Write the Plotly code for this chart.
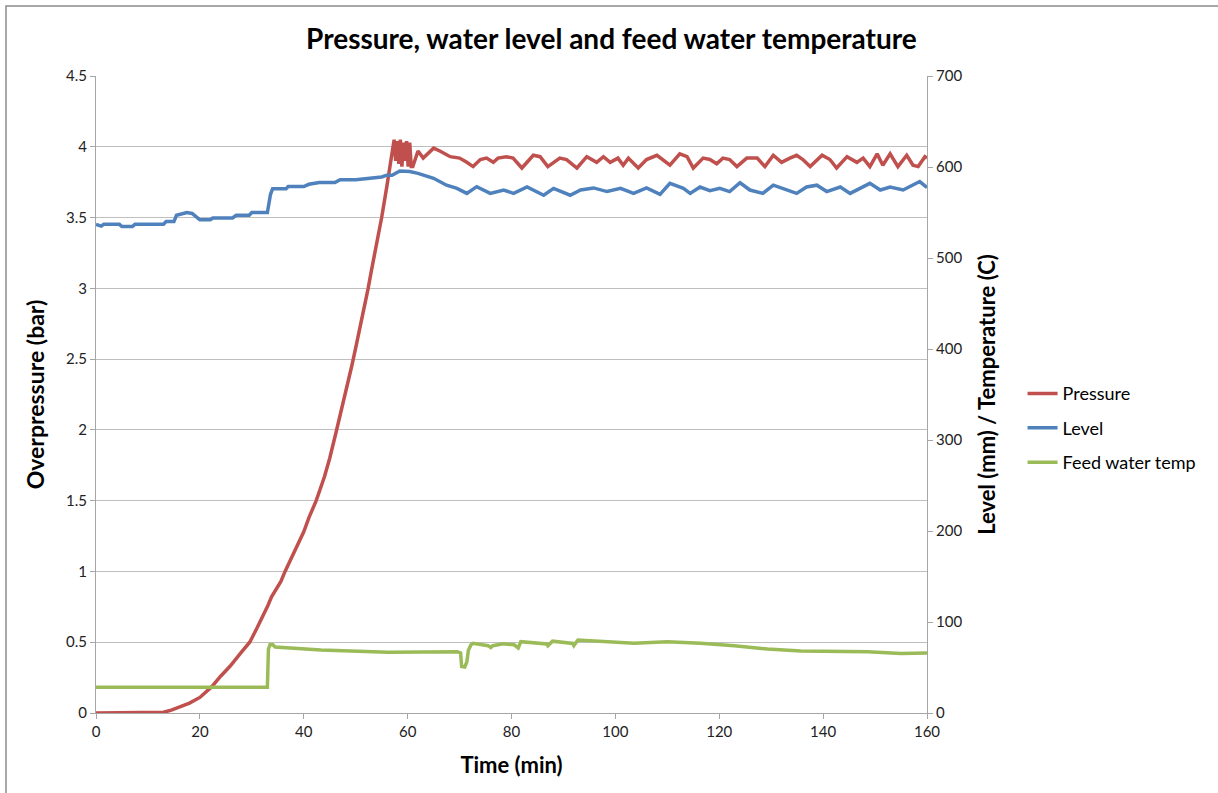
import plotly.graph_objects as go

# ---------------- data ----------------
pressure_t = [0, 5, 10, 13, 14.5, 16, 18, 20, 22.3, 24, 25.8, 28, 29.6, 31, 32, 33.1, 33.8, 34.8, 35.6,
              36.4, 38, 40, 41, 42.4, 44, 45, 46.2, 47, 48, 49.3, 50, 51, 52.4, 53, 54, 55, 56, 57.2,
              57.4, 57.7, 58.0, 58.3, 58.6, 58.9, 59.2, 59.5, 59.8, 60.1, 60.4, 60.7, 61, 62, 63,
              65, 66.2, 68.2, 70, 71.4, 72.6, 74, 75.2, 76.5, 77.4, 79, 80.3, 82, 84.2, 85.5, 87,
              89.3, 90.6, 92.6, 94.5, 96.4, 97.7, 99, 100.5, 101.5, 102.5, 104.4, 106, 108, 110.5,
              112.4, 113.8, 115, 116.9, 118.2, 119.5, 120.7, 122, 123.4, 125.3, 127.3, 128.8,
              130.4, 132, 133.6, 134.9, 136.1, 137.5, 139.8, 141.3, 142.6, 144.6, 146.5, 147.7,
              149, 150.4, 151.5, 152.9, 154.4, 156.1, 157.3, 158.3, 159.6, 160]
pressure_bar = [0, 0, 0, 0.005, 0.02, 0.04, 0.07, 0.11, 0.186, 0.26, 0.33, 0.43, 0.5, 0.6, 0.67, 0.76,
                0.82, 0.88, 0.93, 1.0, 1.12, 1.28, 1.38, 1.5, 1.67, 1.8, 1.98, 2.1, 2.25, 2.46, 2.58,
                2.75, 3.0, 3.12, 3.3, 3.5, 3.72, 4.0,
                4.05, 3.9, 4.04, 3.88, 4.05, 3.86, 4.03, 3.9, 4.04, 3.86, 4.03, 3.86, 3.86, 3.97, 3.92,
                3.99, 3.97, 3.93, 3.92, 3.89, 3.86, 3.91, 3.92, 3.89, 3.92, 3.93, 3.92, 3.85, 3.94,
                3.93, 3.86, 3.92, 3.91, 3.85, 3.93, 3.89, 3.93, 3.89, 3.92, 3.87, 3.92, 3.85, 3.91,
                3.94, 3.87, 3.95, 3.93, 3.85, 3.92, 3.91, 3.88, 3.92, 3.91, 3.86, 3.92, 3.92, 3.86,
                3.94, 3.89, 3.92, 3.94, 3.91, 3.86, 3.94, 3.91, 3.85, 3.93, 3.89, 3.92, 3.86, 3.95,
                3.87, 3.95, 3.86, 3.94, 3.87, 3.86, 3.93, 3.92]

level_t = [0, 1, 1.5, 4.5, 5, 7, 7.5, 13, 13.5, 15, 15.5, 17.5, 18.5, 19.4, 20, 22, 22.5, 26.3, 27,
           29.5, 30, 33, 33.6, 34, 36.6, 37, 40, 41, 43, 46, 47, 50, 52, 55, 56, 57, 58.5, 60.4,
           62, 63, 65, 67.5, 69.5, 71.4, 73.3, 75.9, 78.5, 80.4, 83, 86.2, 88.1, 91.3, 93.3, 95.8,
           98.4, 101, 103.5, 106, 108.6, 110.5, 113.1, 114.4, 116.3, 118.2, 120.1, 122, 124,
           125.9, 128.4, 130.4, 133, 134.9, 136.8, 138.8, 140.7, 143.3, 145.2, 147.1, 149, 151,
           152.9, 155.4, 158.6, 159.9, 160]
level_mm = [537, 535, 537, 537, 534.5, 534.5, 537, 537, 540, 540, 547, 550, 549, 545, 542, 542, 544,
            544, 547, 547, 550, 550, 570, 576, 576, 578.5, 578.5, 581, 583, 583, 586, 586, 587.5,
            589, 591, 591, 595.6, 595, 593, 591, 587.6, 580, 576.5, 571, 578.4, 571, 574.7, 571,
            578, 569, 576.5, 569, 574.7, 577, 573, 576.5, 571, 577, 570, 582, 576.5, 571, 578,
            574, 576.5, 573, 582.7, 574.7, 571, 580, 574.7, 571, 578, 580, 573, 578, 571, 577,
            582, 574.7, 578, 574.7, 584, 578, 577]

feed_t = [0, 10, 20, 33, 33.2, 33.5, 34, 34.5, 43.3, 56.2, 69.6, 70.2, 70.4, 71, 71.4, 71.7, 72.2,
          72.6, 75.5, 76, 76.4, 78.4, 80.5, 81.3, 81.8, 86.8, 87, 87.9, 91.8, 92, 92.8, 97.2,
          103.6, 110, 116.4, 122.9, 129.3, 135.7, 142.1, 148.6, 155, 160]
feed_temp = [28.2, 28, 28, 28.2, 70, 75, 75.3, 72.5, 69.2, 66.7, 67.2, 66, 51, 50.5, 56, 69, 75,
             76.6, 74, 72, 74, 76, 75, 71.5, 78.4, 75.8, 74, 78.9, 76.4, 74, 80.2, 78.4,
             76.7, 78.4, 76.7, 74, 70.3, 68, 68, 67.4, 65.5, 66]

series_names = ["Pressure", "Level", "Feed water temp"]
series_colors = ["#C0504D", "#4F81BD", "#9BBB59"]

FONT = "Lato"

fig = go.Figure()
fig.add_trace(go.Scatter(x=pressure_t, y=pressure_bar, name=series_names[0], mode="lines",
                         legendgroup="p", line=dict(color=series_colors[0], width=3.5), yaxis="y"))
fig.add_trace(go.Scatter(x=level_t, y=level_mm, name=series_names[1], mode="lines",
                         legendgroup="l", line=dict(color=series_colors[1], width=3.5), yaxis="y2"))
fig.add_trace(go.Scatter(x=feed_t, y=feed_temp, name=series_names[2], mode="lines",
                         legendgroup="f", line=dict(color=series_colors[2], width=3.5), yaxis="y2"))

axis_common = dict(showline=True, linecolor="#A6A6A6", linewidth=1, ticks="outside",
                   ticklen=5, tickcolor="#A6A6A6", zeroline=False,
                   tickfont=dict(family=FONT, size=15, color="#222"))

fig.update_layout(
    width=1218, height=793,
    paper_bgcolor="white", plot_bgcolor="white",
    margin=dict(l=96, r=291, t=76, b=80),
    title=dict(text="<b>Pressure, water level and feed water temperature</b>",
               x=0.502, xanchor="center", y=0.951, yanchor="middle",
               font=dict(family=FONT, size=28, color="black")),
    xaxis=dict(range=[0, 160], dtick=20, showgrid=False,
               title=dict(text="<b>Time (min)</b>", font=dict(family=FONT, size=22, color="black"),
                          standoff=18),
               **axis_common),
    yaxis=dict(range=[0, 4.5], dtick=0.5, showgrid=True, gridcolor="#BFBFBF", gridwidth=1,
               title=dict(text="<b>Overpressure (bar)</b>", font=dict(family=FONT, size=23, color="black"),
                          standoff=14),
               **axis_common),
    yaxis2=dict(range=[0, 700], dtick=100, overlaying="y", side="right", showgrid=False,
                title=dict(text="<b>Level (mm) / Temperature (C)</b>",
                           font=dict(family=FONT, size=22, color="black"), standoff=18),
                **axis_common),
    legend=dict(x=1.115, xanchor="left", y=0.447, yanchor="middle",
                font=dict(family=FONT, size=18, color="black"),
                bgcolor="rgba(0,0,0,0)", itemwidth=30, tracegroupgap=8),
    showlegend=True,
)

# outer chart border (partially visible, top-left)
fig.add_shape(type="rect", xref="paper", yref="paper",
              x0=-90 / 831, x1=1.40, y0=-0.20, y1=(713 - 6) / 637,
              line=dict(color="#8C8C8C", width=1.5), fillcolor="rgba(0,0,0,0)", layer="below")

fig.write_html("out.html")
